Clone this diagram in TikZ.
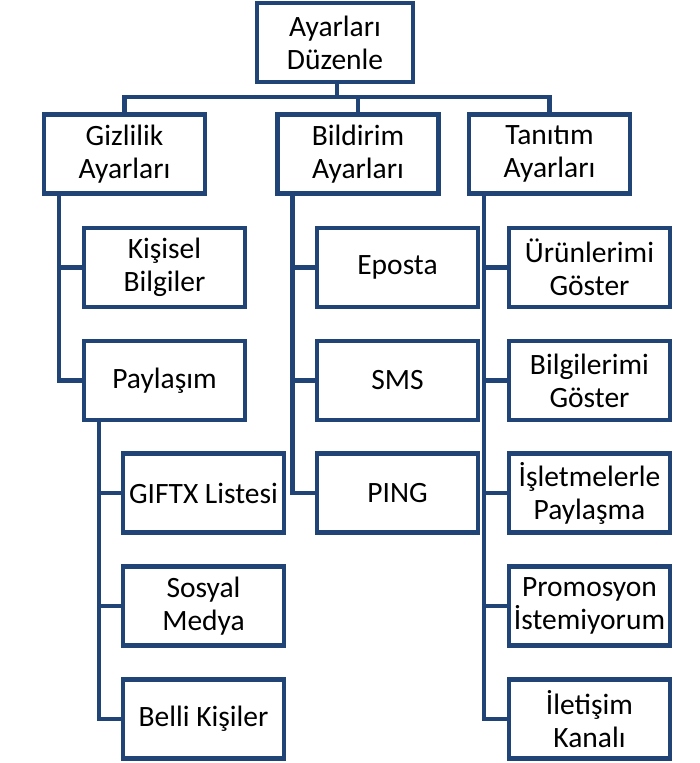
\documentclass[tikz,border=0pt]{standalone}
\usepackage{fontspec}
\setmainfont{Carlito}
\definecolor{boxblue}{RGB}{33,68,118}
\tikzset{
  itembox/.style={draw=boxblue, line width=4.2pt, fill=white, align=center,
    minimum width=161pt, minimum height=79pt, inner sep=2pt,
    font=\fontsize{29.5}{33}\selectfont},
  link/.style={draw=boxblue, line width=4.2pt}
}
\begin{document}
\begin{tikzpicture}[x=1pt, y=-1pt]
        \useasboundingbox (0,0) rectangle (700,763);
        % Nodes
        \node[itembox, minimum width=156pt] (root) at (335, 42.5) {Ayarları\\Düzenle};
        \node[itembox] (giz) at (124.5, 154) {Gizlilik\\Ayarları};
        \node[itembox] (bil) at (358, 154) {Bildirim\\Ayarları};
        \node[itembox] (tan) at (549.5, 154) {Tanıtım\\Ayarları};
        \node[itembox] (kis) at (164.5, 267.5) {Kişisel\\Bilgiler};
        \node[itembox] (pay) at (164.5, 380.5) {Paylaşım};
        \node[itembox] (gif) at (203.5, 493) {GIFTX Listesi};
        \node[itembox] (sos) at (203.5, 606) {Sosyal\\Medya};
        \node[itembox] (bel) at (203.5, 719) {Belli Kişiler};
        \node[itembox] (epo) at (397.5, 267.5) {Eposta};
        \node[itembox] (sms) at (397.5, 380.5) {SMS};
        \node[itembox] (pin) at (397.5, 493) {PING};
        \node[itembox] (uru) at (589.5, 267.5) {Ürünlerimi\\Göster};
        \node[itembox] (blg) at (589.5, 380.5) {Bilgilerimi\\Göster};
        \node[itembox] (isl) at (589.5, 493) {İşletmelerle\\Paylaşma};
        \node[itembox] (pro) at (589.5, 606) {Promosyon\\İstemiyorum};
        \node[itembox] (ile) at (589.5, 719) {İletişim\\Kanalı};

        % Edges
        \coordinate (bus) at (337, 97);
        \draw[link] (root.south -| bus) -- (bus);
        \draw[link] (bus) -| (giz.north);
        \draw[link] (bus) -| (bil.north);
        \draw[link] (bus) -| (tan.north);
        \draw[link] ([xshift=17pt]giz.south west) |- (kis.west);
        \draw[link] ([xshift=17pt]giz.south west) |- (pay.west);
        \draw[link] ([xshift=17pt]pay.south west) |- (gif.west);
        \draw[link] ([xshift=17pt]pay.south west) |- (sos.west);
        \draw[link] ([xshift=17pt]pay.south west) |- (bel.west);
        \draw[link] ([xshift=17pt]bil.south west) |- (epo.west);
        \draw[link] ([xshift=17pt]bil.south west) |- (sms.west);
        \draw[link] ([xshift=17pt]bil.south west) |- (pin.west);
        \draw[link] ([xshift=17pt]tan.south west) |- (uru.west);
        \draw[link] ([xshift=17pt]tan.south west) |- (blg.west);
        \draw[link] ([xshift=17pt]tan.south west) |- (isl.west);
        \draw[link] ([xshift=17pt]tan.south west) |- (pro.west);
        \draw[link] ([xshift=17pt]tan.south west) |- (ile.west);
    \end{tikzpicture}
\end{document}
